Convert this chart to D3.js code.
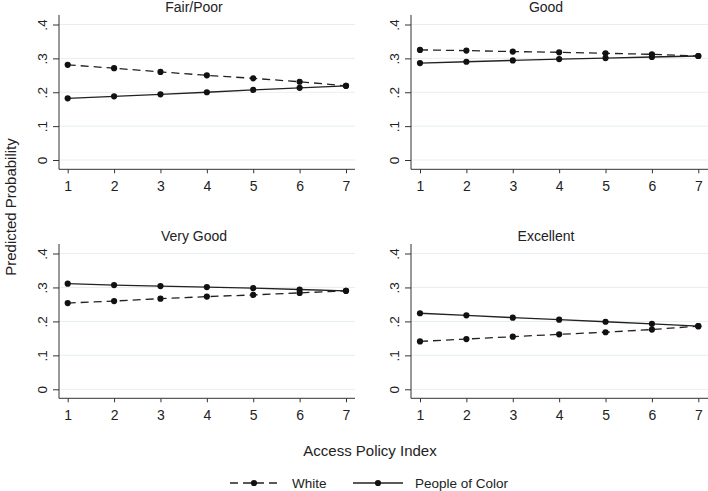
<!DOCTYPE html>
<html><head><meta charset="utf-8">
<script src="https://cdn.jsdelivr.net/npm/d3@7"></script>
<style>body{margin:0;background:#fff}svg{display:block}text{font-family:"Liberation Sans",Arial,sans-serif;fill:#222}</style>
</head><body>
<svg id="chart" width="708" height="491"></svg>
<script>
const xValues = [1, 2, 3, 4, 5, 6, 7];
const panelTitles = ["Fair/Poor", "Good", "Very Good", "Excellent"];
const yTicks = [0, 0.1, 0.2, 0.3, 0.4];
const yTickLabels = ["0", ".1", ".2", ".3", ".4"];
const seriesNames = ["White", "People of Color"];

const whiteFairPoor = [0.281, 0.271, 0.260, 0.250, 0.241, 0.231, 0.219];
const pocFairPoor   = [0.182, 0.188, 0.194, 0.200, 0.207, 0.213, 0.219];
const whiteGood     = [0.325, 0.323, 0.320, 0.318, 0.315, 0.312, 0.307];
const pocGood       = [0.286, 0.290, 0.294, 0.298, 0.301, 0.304, 0.307];
const whiteVeryGood = [0.254, 0.260, 0.267, 0.273, 0.278, 0.284, 0.290];
const pocVeryGood   = [0.311, 0.307, 0.304, 0.301, 0.298, 0.294, 0.290];
const whiteExcellent= [0.141, 0.148, 0.155, 0.162, 0.168, 0.176, 0.186];
const pocExcellent  = [0.224, 0.218, 0.211, 0.205, 0.199, 0.193, 0.186];

const whiteSeries = [whiteFairPoor, whiteGood, whiteVeryGood, whiteExcellent];
const pocSeries = [pocFairPoor, pocGood, pocVeryGood, pocExcellent];

const svg = d3.select("#chart");
const cols = [
  {axisX: 59, r0: 67.7, r1: 346, right: 355, center: 194},
  {axisX: 411, r0: 420, r1: 698.3, right: 708, center: 546}
];
const rows = [
  {y0: 160, y4: 24.5, axisY: 169.3, top: 15, titleY: 12},
  {y0: 389.3, y4: 253.5, axisY: 398.3, top: 244, titleY: 241}
];
const dashPattern = "8,5";

panelTitles.forEach((title, i) => {
  const c = cols[i % 2], r = rows[Math.floor(i / 2)];
  const x = d3.scaleLinear().domain([1, 7]).range([c.r0, c.r1]);
  const y = d3.scaleLinear().domain([0, 0.4]).range([r.y0, r.y4]);
  const g = svg.append("g");

  // gridlines
  g.selectAll("line.grid").data(yTicks).join("line")
    .attr("x1", c.axisX).attr("x2", c.right)
    .attr("y1", d => y(d)).attr("y2", d => y(d))
    .attr("stroke", "#e6eef3").attr("stroke-width", 1);

  // y axis
  const ya = g.append("g").attr("transform", `translate(${c.axisX},0)`)
    .call(d3.axisLeft(y).tickValues(yTicks).tickFormat((d, k) => yTickLabels[k]).tickSize(6).tickPadding(0));
  ya.select(".domain").remove();
  ya.append("line").attr("x1", 0).attr("x2", 0).attr("y1", r.top).attr("y2", r.axisY).attr("stroke", "#333");
  ya.selectAll(".tick line").attr("stroke", "#333");
  ya.selectAll(".tick text")
    .attr("x", null).attr("dy", null)
    .attr("transform", "translate(-12,0) rotate(-90)")
    .attr("text-anchor", "middle").attr("dominant-baseline", "auto")
    .attr("font-size", 13.5).style("fill", "#222");

  // x axis
  const xa = g.append("g").attr("transform", `translate(0,${r.axisY})`)
    .call(d3.axisBottom(x).tickValues(xValues).tickFormat(d3.format("d")).tickSize(4).tickPadding(8));
  xa.select(".domain").remove();
  xa.append("line").attr("x1", c.axisX).attr("x2", c.right).attr("y1", 0).attr("y2", 0).attr("stroke", "#333");
  xa.selectAll(".tick line").attr("stroke", "#333");
  xa.selectAll(".tick text").attr("font-size", 14).style("fill", "#222");

  // title
  g.append("text").attr("x", c.center).attr("y", r.titleY).attr("text-anchor", "middle")
    .attr("font-size", 14).text(title);

  const line = d3.line().x((d, k) => x(xValues[k])).y(d => y(d));
  const drawSeries = (vals, dashed) => {
    g.append("path").datum(vals).attr("d", line).attr("fill", "none")
      .attr("stroke", "#222").attr("stroke-width", 1.3)
      .attr("stroke-dasharray", dashed ? dashPattern : null);
    g.selectAll(null).data(vals).join("circle")
      .attr("cx", (d, k) => x(xValues[k])).attr("cy", d => y(d)).attr("r", 3.1).attr("fill", "#111");
  };
  drawSeries(whiteSeries[i], true);
  drawSeries(pocSeries[i], false);
});

// axis titles
svg.append("text").attr("transform", "translate(16,207) rotate(-90)").attr("text-anchor", "middle")
  .attr("font-size", 15).text("Predicted Probability");
svg.append("text").attr("x", 370).attr("y", 456).attr("text-anchor", "middle")
  .attr("font-size", 15).text("Access Policy Index");

// legend
const legend = [
  {name: seriesNames[0], x1: 230, x2: 278, tx: 292, dashed: true},
  {name: seriesNames[1], x1: 353, x2: 403, tx: 415, dashed: false}
];
const ly = 483;
legend.forEach(l => {
  svg.append("line").attr("x1", l.x1).attr("x2", l.x2).attr("y1", ly).attr("y2", ly)
    .attr("stroke", "#222").attr("stroke-width", 1.3).attr("stroke-dasharray", l.dashed ? dashPattern : null);
  svg.append("circle").attr("cx", (l.x1 + l.x2) / 2).attr("cy", ly).attr("r", 3.1).attr("fill", "#111");
  svg.append("text").attr("x", l.tx).attr("y", ly + 5).attr("font-size", 13.5).text(l.name);
});
</script>
</body></html>
